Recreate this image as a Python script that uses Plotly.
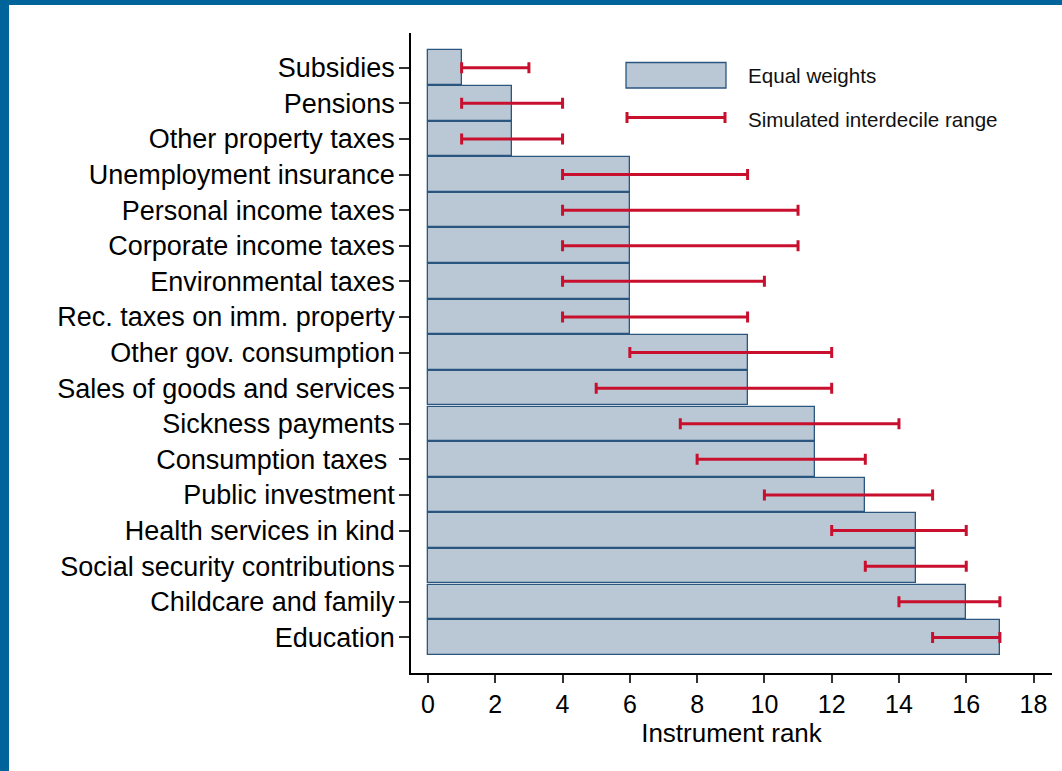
import plotly.graph_objects as go

# Policy instruments, listed top to bottom
instruments = [
    "Subsidies",
    "Pensions",
    "Other property taxes",
    "Unemployment insurance",
    "Personal income taxes",
    "Corporate income taxes",
    "Environmental taxes",
    "Rec. taxes on imm. property",
    "Other gov. consumption",
    "Sales of goods and services",
    "Sickness payments",
    "Consumption taxes\u00a0",
    "Public investment",
    "Health services in kind",
    "Social security contributions",
    "Childcare and family",
    "Education",
]

# Rank under equal weights
equal_weight_rank = [1, 2.5, 2.5, 6, 6, 6, 6, 6, 9.5, 9.5, 11.5, 11.5, 13, 14.5, 14.5, 16, 17]

# Simulated interdecile range of the rank (10th and 90th percentile)
rank_p10 = [1, 1, 1, 4, 4, 4, 4, 4, 6, 5, 7.5, 8, 10, 12, 13, 14, 15]
rank_p90 = [3, 4, 4, 9.5, 11, 11, 10, 9.5, 12, 12, 14, 13, 15, 16, 16, 17, 17]

BAR_FILL = "#b9c8d4"
BAR_LINE = "#2a5680"
RANGE_RED = "#c8102e"
FRAME_BLUE = "#00639a"
FONT = "Liberation Sans, Arial, sans-serif"

mid = [(lo + hi) / 2 for lo, hi in zip(rank_p10, rank_p90)]
half = [(hi - lo) / 2 for lo, hi in zip(rank_p10, rank_p90)]

fig = go.Figure()

fig.add_trace(go.Bar(
    y=instruments,
    x=equal_weight_rank,
    orientation="h",
    width=0.97,
    marker=dict(color=BAR_FILL, line=dict(color=BAR_LINE, width=1.3)),
    name="Equal weights",
    showlegend=False,
    hoverinfo="x+y",
))

fig.add_trace(go.Scatter(
    y=instruments,
    x=mid,
    mode="markers",
    marker=dict(size=1, opacity=0),
    error_x=dict(type="data", array=half, symmetric=True,
                 color=RANGE_RED, thickness=3, width=5.5),
    name="Simulated interdecile range",
    showlegend=False,
    hoverinfo="skip",
))

# Plot area in pixels: x 410..1052, y 33..673
L, R, T, B = 411, 1052, 33, 673
W, H = R - L, B - T


def px(x):
    return (x - L) / W


def py(y):
    return (B - y) / H


shapes = [
    # frame bands along the top and left edges of the page
    dict(type="rect", xref="paper", yref="paper", x0=px(-20), x1=px(1100),
         y0=py(5), y1=py(-20), fillcolor=FRAME_BLUE, line=dict(width=0), layer="above"),
    dict(type="rect", xref="paper", yref="paper", x0=px(-20), x1=px(9),
         y0=py(800), y1=py(-20), fillcolor=FRAME_BLUE, line=dict(width=0), layer="above"),
    # legend key: bar swatch
    dict(type="rect", xref="paper", yref="paper", x0=px(626), x1=px(726),
         y0=py(88), y1=py(62.5), fillcolor=BAR_FILL,
         line=dict(color=BAR_LINE, width=1.3)),
    # legend key: range line with end caps
    dict(type="line", xref="paper", yref="paper", x0=px(626), x1=px(726),
         y0=py(117.5), y1=py(117.5), line=dict(color=RANGE_RED, width=3)),
    dict(type="line", xref="paper", yref="paper", x0=px(627), x1=px(627),
         y0=py(112), y1=py(123), line=dict(color=RANGE_RED, width=3)),
    dict(type="line", xref="paper", yref="paper", x0=px(725), x1=px(725),
         y0=py(112), y1=py(123), line=dict(color=RANGE_RED, width=3)),
]

annotations = [
    dict(text="Equal weights", xref="paper", yref="paper", x=px(746), y=py(76),
         xanchor="left", yanchor="middle", showarrow=False,
         font=dict(family=FONT, size=20.6, color="#111111")),
    dict(text="Simulated interdecile range", xref="paper", yref="paper",
         x=px(746), y=py(119), xanchor="left", yanchor="middle", showarrow=False,
         font=dict(family=FONT, size=20.6, color="#111111")),
]

fig.update_layout(
    width=1062,
    height=771,
    margin=dict(l=L, r=1062 - R, t=T, b=771 - B, pad=0),
    paper_bgcolor="white",
    plot_bgcolor="white",
    font=dict(family=FONT, color="#000000"),
    showlegend=False,
    bargap=0,
    shapes=shapes,
    annotations=annotations,
    xaxis=dict(
        range=[(L - 428) / 33.64, (R - 428) / 33.64],
        tickmode="array",
        tickvals=list(range(0, 19, 2)),
        ticks="outside",
        ticklen=8,
        tickwidth=1.5,
        tickcolor="#333333",
        tickfont=dict(family=FONT, size=25, color="#000000"),
        showgrid=False,
        zeroline=False,
        showline=True,
        linecolor="#000000",
        linewidth=1.5,
        title=dict(text="Instrument rank", standoff=0,
                   font=dict(family=FONT, size=26, color="#000000")),
    ),
    yaxis=dict(
        type="category",
        categoryorder="array",
        categoryarray=instruments[::-1],
        range=[-1.0, 16.975],
        ticks="outside",
        ticklen=10,
        tickwidth=1.5,
        tickcolor="#333333",
        tickfont=dict(family=FONT, size=27, color="#000000"),
        ticklabelstandoff=-1,
        showgrid=False,
        zeroline=False,
        showline=True,
        linecolor="#000000",
        linewidth=1.5,
    ),
)

fig.write_html("out.html")
